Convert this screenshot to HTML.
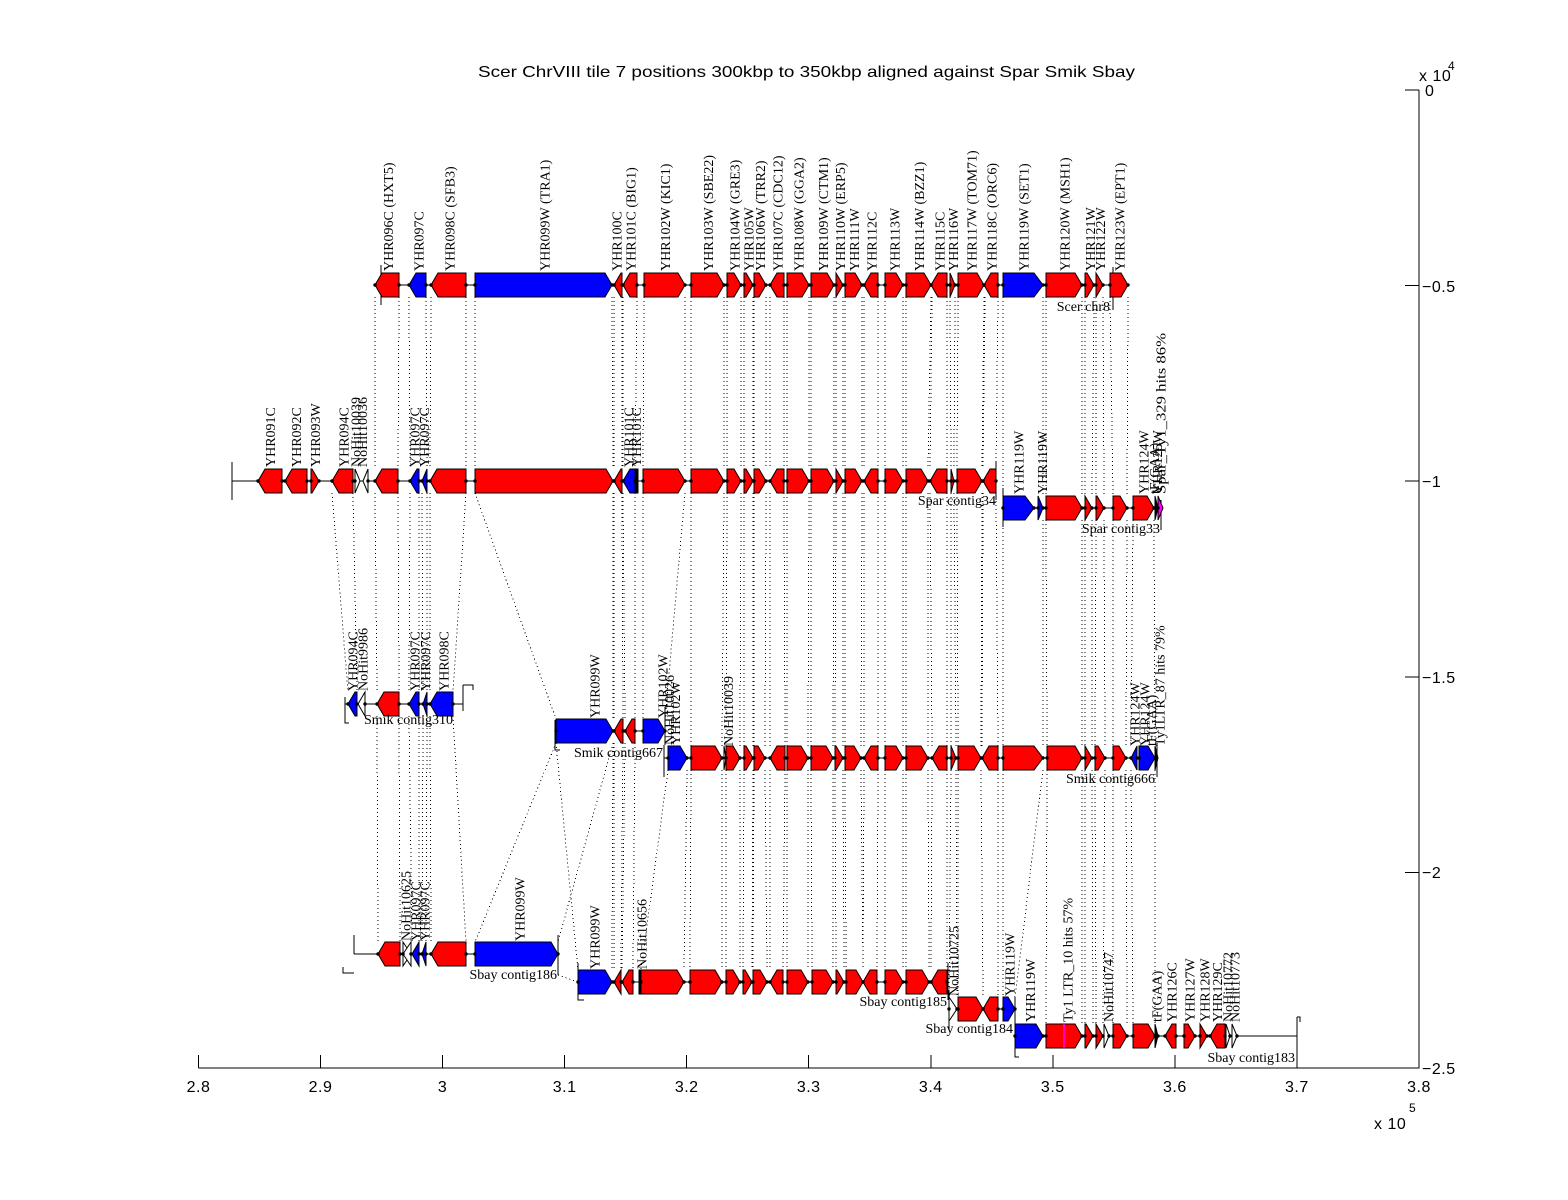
<!DOCTYPE html>
<html><head><meta charset="utf-8"><style>
html,body{margin:0;padding:0;background:#fff;}
svg{display:block;}
.s{font-family:"Liberation Sans",Arial,sans-serif;fill:#000;}
.t{font-family:"Liberation Serif","Times New Roman",serif;font-size:14px;fill:#000;}
.r{stroke:#000;stroke-width:1;fill:#ff0000;}
.b{stroke:#000;stroke-width:1;fill:#0000ff;}
.w{stroke:#000;stroke-width:1;fill:#fff;}
.k{stroke:#000;stroke-width:1;fill:#000;}
.m{stroke:#000;stroke-width:1;fill:#ff00ff;}
</style></head><body>
<svg width="1568" height="1200" viewBox="0 0 1568 1200" xmlns="http://www.w3.org/2000/svg">
<rect width="1568" height="1200" fill="#fff"/>

<!-- dotted connection lines -->
<g fill="none" stroke="#000" stroke-width="1" stroke-dasharray="1 3" shape-rendering="crispEdges">
<path d="M375 297V469 M399 297L398 469 M409 297L410 469 M426 297L427 469 M431 297L430 469 M466 297V469 M475 297V469 M612 297L613 469 M614 297V469 M622 297V469 M623 297V469 M637 297L635 469 M644 297L643 469 M685 297V469 M691 297V469 M724 297V469 M727 297V469 M741 297V469 M744 297V469 M753 297V469 M754 297V469 M766 297V469 M770 297V469 M784 297V469 M787 297V469 M809 297V469 M811 297V469 M834 297V469 M836 297V469 M843 297V469 M845 297V469 M862 297V469 M864 297V469 M878 297V469 M885 297V469 M903 297V469 M906 297V469 M931 297L928 469 M932 297L930 469 M947 297V469 M950 297L951 469 M955 297L954 469 M958 297L957 469 M984 297L982 469 M985 297L983 469 M998 297L996 469 M1003 297V496 M1043 297V496 M1046 297V496 M1082 297V496 M1085 297V496 M1094 297L1092 496 M1096 297V496 M1103 297L1104 496 M1110 297L1113 496 M1128 297L1127 496"/>
<path d="M332 493L348 692 M353 493L357 692 M375 493L377 692 M398 493L399 692 M410 493L409 692 M419 493V692 M422 493L423 692 M427 493V692 M430 493V692 M466 493L453 692 M475 493L556 719 M613 493V719 M614 493V719 M622 493L623 719 M623 493L625 719 M635 493V719 M643 493V719 M685 493L665 719 M691 493V746 M724 493L722 746 M727 493L726 746 M741 493L740 746 M744 493V746 M753 493V746 M754 493V746 M766 493L765 746 M770 493V746 M784 493L785 746 M787 493V746 M809 493L808 746 M811 493V746 M834 493L833 746 M836 493L835 746 M843 493V746 M845 493V746 M862 493L861 746 M864 493V746 M878 493V746 M885 493V746 M903 493V746 M906 493V746 M928 493V746 M930 493L932 746 M947 493V746 M951 493V746 M954 493L956 746 M957 493L958 746 M982 493L981 746 M983 493L982 746 M996 493L998 746 M1003 520V746 M1043 520V746 M1046 520L1047 746 M1082 520V746 M1085 520V746 M1092 520V746 M1096 520L1095 746 M1104 520L1105 746 M1113 520V746 M1127 520L1126 746 M1133 520L1131 746 M1154 520L1155 746"/>
<path d="M377 716L378 942 M399 716L400 942 M409 716L412 942 M419 716V942 M423 716L422 942 M427 716L426 942 M430 716L431 942 M453 716L466 942 M556 743L475 942 M613 743L558 942 M556 743L578 970 M613 743L612 970 M614 743V970 M623 743L621 970 M625 743L622 970 M635 743L633 970 M668 770L641 970 M687 770L684 970 M691 770L690 970 M722 770V970 M726 770V970 M740 770V970 M744 770L743 970 M753 770L752 970 M754 770L753 970 M765 770L767 970 M770 770V970 M785 770L783 970 M787 770V970 M808 770V970 M811 770L812 970 M833 770V970 M835 770L836 970 M843 770L844 970 M845 770L846 970 M861 770L863 970 M864 770L863 970 M878 770L877 970 M885 770V970 M903 770V970 M906 770V970 M928 770L929 970 M932 770L931 970 M947 770V970 M951 770L949 997 M956 770L957 997 M958 770V997 M981 770L983 997 M998 770V997 M1003 770V997 M1043 770L1015 997 M1047 770L1046 1024 M1082 770V1024 M1085 770V1024 M1092 770L1093 1024 M1095 770L1096 1024 M1105 770L1103 1024 M1113 770V1024 M1126 770L1127 1024 M1131 770L1133 1024 M1155 770V1024 M558 975L578 982"/>
</g>

<!-- contig backbone lines and end bars -->
<g fill="none" stroke="#000" stroke-width="1" shape-rendering="crispEdges">
<path d="M375 285H1128 M381 265V305 M1113 267V310"/>
<path d="M232 481H996 M232 462V500 M996 462V500"/>
<path d="M1003 508H1161 M1003 488V527 M1161 500V530"/>
<path d="M345 704H463 M345 697V723H349 M463 685V711 M463 685H473V690"/>
<path d="M555 731H665 M555 720V750H560 M665 707V745"/>
<path d="M664 758H1157 M664 745V777 M1157 743V777"/>
<path d="M354 954H558 M354 935V954 M343 967V973H354 M558 935V975"/>
<path d="M578 982H948 M578 963V1000H584 M948 963V1000"/>
<path d="M949 1009H1015 M949 990V1030 M1015 997V1027"/>
<path d="M1015 1036H1297 M1015 1017V1057H1019 M1297 1017V1068 M1297 1017H1300V1022"/>
</g>

<!-- Row 1 Scer -->
<g>
<polygon class="r" points="399,273 382,273 375,285 382,297 399,297"/>
<polygon class="b" points="426,273 416,273 409,285 416,297 426,297"/>
<polygon class="r" points="466,273 438,273 431,285 438,297 466,297"/>
<polygon class="b" points="475,273 605,273 612,285 605,297 475,297"/>
<polygon class="r" points="622,273 621,273 614,285 621,297 622,297"/>
<polygon class="r" points="637,273 630,273 623,285 630,297 637,297"/>
<polygon class="r" points="644,273 678,273 685,285 678,297 644,297"/>
<polygon class="r" points="691,273 717,273 724,285 717,297 691,297"/>
<polygon class="r" points="727,273 734,273 741,285 734,297 727,297"/>
<polygon class="r" points="744,273 746,273 753,285 746,297 744,297"/>
<polygon class="r" points="754,273 759,273 766,285 759,297 754,297"/>
<polygon class="r" points="784,273 777,273 770,285 777,297 784,297"/>
<polygon class="r" points="787,273 802,273 809,285 802,297 787,297"/>
<polygon class="r" points="811,273 827,273 834,285 827,297 811,297"/>
<polygon class="r" points="836,273 843,285 836,297"/>
<polygon class="r" points="845,273 855,273 862,285 855,297 845,297"/>
<polygon class="r" points="878,273 871,273 864,285 871,297 878,297"/>
<polygon class="r" points="885,273 896,273 903,285 896,297 885,297"/>
<polygon class="r" points="906,273 924,273 931,285 924,297 906,297"/>
<polygon class="r" points="947,273 938,273 931,285 938,297 947,297"/>
<polygon class="r" points="950,273 955,285 950,297"/>
<polygon class="r" points="958,273 977,273 984,285 977,297 958,297"/>
<polygon class="r" points="998,273 991,273 984,285 991,297 998,297"/>
<polygon class="b" points="1003,273 1034,273 1043,285 1034,297 1003,297"/>
<polygon class="r" points="1046,273 1075,273 1082,285 1075,297 1046,297"/>
<polygon class="r" points="1085,273 1087,273 1094,285 1087,297 1085,297"/>
<polygon class="r" points="1096,273 1103,285 1096,297"/>
<polygon class="r" points="1110,273 1121,273 1128,285 1121,297 1110,297"/>
</g>

<!-- Row 2 Spar contig34 -->
<g>
<polygon class="r" points="282,469 265,469 258,481 265,493 282,493"/>
<polygon class="r" points="307,469 292,469 285,481 292,493 307,493"/>
<polygon class="r" points="311,469 312,469 319,481 312,493 311,493"/>
<polygon class="r" points="353,469 339,469 332,481 339,493 353,493"/>
<polygon class="w" points="355,469 360,481 355,493"/>
<polygon class="w" points="368,469 363,481 368,493"/>
<polygon class="r" points="398,469 382,469 375,481 382,493 398,493"/>
<polygon class="b" points="419,469 417,469 410,481 417,493 419,493"/>
<polygon class="b" points="427,469 422,481 427,493"/>
<polygon class="r" points="466,469 437,469 430,481 437,493 466,493"/>
<polygon class="r" points="475,469 606,469 613,481 606,493 475,493"/>
<polygon class="r" points="622,469 621,469 614,481 621,493 622,493"/>
<polygon class="b" points="635,469 630,469 623,481 630,493 635,493"/>
<rect class="k" x="636" y="469" width="2" height="24"/>
<polygon class="r" points="643,469 678,469 685,481 678,493 643,493"/>
<polygon class="r" points="691,469 717,469 724,481 717,493 691,493"/>
<polygon class="r" points="727,469 734,469 741,481 734,493 727,493"/>
<polygon class="r" points="744,469 746,469 753,481 746,493 744,493"/>
<polygon class="r" points="754,469 759,469 766,481 759,493 754,493"/>
<polygon class="r" points="784,469 777,469 770,481 777,493 784,493"/>
<polygon class="r" points="787,469 802,469 809,481 802,493 787,493"/>
<polygon class="r" points="811,469 827,469 834,481 827,493 811,493"/>
<polygon class="r" points="836,469 843,481 836,493"/>
<polygon class="r" points="845,469 855,469 862,481 855,493 845,493"/>
<polygon class="r" points="878,469 871,469 864,481 871,493 878,493"/>
<polygon class="r" points="885,469 896,469 903,481 896,493 885,493"/>
<polygon class="r" points="906,469 921,469 928,481 921,493 906,493"/>
<polygon class="r" points="947,469 937,469 930,481 937,493 947,493"/>
<polygon class="r" points="951,469 954,481 951,493"/>
<polygon class="r" points="957,469 975,469 982,481 975,493 957,493"/>
<polygon class="r" points="996,469 990,469 983,481 990,493 996,493"/>
</g>

<!-- Row 2b Spar contig33 -->
<g>
<polygon class="b" points="1003,496 1025,496 1034,508 1025,520 1003,520"/>
<polygon class="b" points="1038,496 1043,508 1038,520"/>
<polygon class="r" points="1046,496 1075,496 1082,508 1075,520 1046,520"/>
<polygon class="r" points="1085,496 1092,508 1085,520"/>
<polygon class="r" points="1096,496 1097,496 1104,508 1097,520 1096,520"/>
<polygon class="r" points="1113,496 1120,496 1127,508 1120,520 1113,520"/>
<polygon class="r" points="1133,496 1147,496 1154,508 1147,520 1133,520"/>
<polygon class="k" points="1155,496 1158,508 1155,520"/>
<polygon class="m" points="1158,496 1163,508 1158,520"/>
</g>

<!-- Row 3a Smik contig310 -->
<g>
<polygon class="b" points="357,692 355,692 348,704 355,716 357,716"/>
<polygon class="w" points="365,692 358,704 365,716"/>
<polygon class="r" points="399,692 384,692 377,704 384,716 399,716"/>
<polygon class="b" points="419,692 416,692 409,704 416,716 419,716"/>
<polygon class="b" points="427,692 423,704 427,716"/>
<polygon class="b" points="453,692 437,692 430,704 437,716 453,716"/>
</g>

<!-- Row 3b Smik contig667 -->
<g>
<polygon class="b" points="556,719 606,719 613,731 606,743 556,743"/>
<polygon class="r" points="623,719 621,719 614,731 621,743 623,743"/>
<polygon class="r" points="635,719 632,719 625,731 632,743 635,743"/>
<polygon class="b" points="643,719 658,719 665,731 658,743 643,743"/>
</g>

<!-- Row 3c Smik contig666 -->
<g>
<polygon class="b" points="668,746 680,746 687,758 680,770 668,770"/>
<polygon class="r" points="691,746 715,746 722,758 715,770 691,770"/>
<polygon class="w" points="724,746 726,758 724,770"/>
<polygon class="r" points="726,746 733,746 740,758 733,770 726,770"/>
<polygon class="r" points="744,746 746,746 753,758 746,770 744,770"/>
<polygon class="r" points="754,746 758,746 765,758 758,770 754,770"/>
<polygon class="r" points="785,746 777,746 770,758 777,770 785,770"/>
<polygon class="r" points="787,746 801,746 808,758 801,770 787,770"/>
<polygon class="r" points="811,746 826,746 833,758 826,770 811,770"/>
<polygon class="r" points="835,746 836,746 843,758 836,770 835,770"/>
<polygon class="r" points="845,746 854,746 861,758 854,770 845,770"/>
<polygon class="r" points="878,746 871,746 864,758 871,770 878,770"/>
<polygon class="r" points="885,746 896,746 903,758 896,770 885,770"/>
<polygon class="r" points="906,746 921,746 928,758 921,770 906,770"/>
<polygon class="r" points="947,746 939,746 932,758 939,770 947,770"/>
<polygon class="r" points="951,746 956,758 951,770"/>
<polygon class="r" points="958,746 974,746 981,758 974,770 958,770"/>
<polygon class="r" points="998,746 989,746 982,758 989,770 998,770"/>
<polygon class="r" points="1003,746 1034,746 1043,758 1034,770 1003,770"/>
<polygon class="r" points="1047,746 1075,746 1082,758 1075,770 1047,770"/>
<polygon class="r" points="1085,746 1092,758 1085,770"/>
<polygon class="r" points="1095,746 1098,746 1105,758 1098,770 1095,770"/>
<polygon class="r" points="1113,746 1119,746 1126,758 1119,770 1113,770"/>
<polygon class="b" points="1137,746 1131,758 1137,770"/>
<polygon class="b" points="1139,746 1148,746 1155,758 1148,770 1139,770"/>
<polygon class="k" points="1155,746 1158,758 1155,770"/>
</g>

<!-- Row 4a Sbay contig186 -->
<g>
<polygon class="r" points="400,942 385,942 378,954 385,966 400,966"/>
<polygon class="w" points="403,942 411,954 403,966"/>
<polygon class="w" points="411,942 403,954 411,966"/>
<polygon class="b" points="419,942 412,954 419,966"/>
<polygon class="b" points="426,942 422,954 426,966"/>
<polygon class="r" points="466,942 438,942 431,954 438,966 466,966"/>
<polygon class="b" points="475,942 551,942 558,954 551,966 475,966"/>
</g>

<!-- Row 4b Sbay contig185 -->
<g>
<polygon class="b" points="578,970 605,970 612,982 605,994 578,994"/>
<polygon class="r" points="621,970 614,982 621,994"/>
<polygon class="r" points="633,970 629,970 622,982 629,994 633,994"/>
<rect class="k" x="639" y="970" width="1.5" height="24"/>
<polygon class="r" points="641,970 677,970 684,982 677,994 641,994"/>
<polygon class="r" points="690,970 715,970 722,982 715,994 690,994"/>
<polygon class="r" points="726,970 733,970 740,982 733,994 726,994"/>
<polygon class="r" points="743,970 745,970 752,982 745,994 743,994"/>
<polygon class="r" points="753,970 760,970 767,982 760,994 753,994"/>
<polygon class="r" points="783,970 777,970 770,982 777,994 783,994"/>
<polygon class="r" points="787,970 801,970 808,982 801,994 787,994"/>
<polygon class="r" points="812,970 826,970 833,982 826,994 812,994"/>
<polygon class="r" points="836,970 837,970 844,982 837,994 836,994"/>
<polygon class="r" points="846,970 856,970 863,982 856,994 846,994"/>
<polygon class="r" points="877,970 870,970 863,982 870,994 877,994"/>
<polygon class="r" points="885,970 896,970 903,982 896,994 885,994"/>
<polygon class="r" points="906,970 922,970 929,982 922,994 906,994"/>
<polygon class="r" points="947,970 938,970 931,982 938,994 947,994"/>
</g>

<!-- Row 4c Sbay contig184 -->
<g>
<polygon class="w" points="949,997 957,1009 949,1021"/>
<polygon class="r" points="958,997 976,997 983,1009 976,1021 958,1021"/>
<polygon class="r" points="998,997 990,997 983,1009 990,1021 998,1021"/>
<polygon class="b" points="1003,997 1008,997 1015,1009 1008,1021 1003,1021"/>
</g>

<!-- Row 4d Sbay contig183 -->
<g>
<polygon class="b" points="1015,1024 1036,1024 1043,1036 1036,1048 1015,1048"/>
<polygon class="r" points="1046,1024 1075,1024 1082,1036 1075,1048 1046,1048"/>
<line x1="1064" y1="1024" x2="1064" y2="1048" stroke="#ff00ff" stroke-width="1.5"/>
<polygon class="r" points="1085,1024 1086,1024 1093,1036 1086,1048 1085,1048"/>
<polygon class="r" points="1096,1024 1103,1036 1096,1048"/>
<polygon class="w" points="1104,1024 1109,1036 1104,1048"/>
<polygon class="r" points="1113,1024 1120,1024 1127,1036 1120,1048 1113,1048"/>
<polygon class="r" points="1133,1024 1148,1024 1155,1036 1148,1048 1133,1048"/>
<polygon class="k" points="1155,1024 1158,1036 1155,1048"/>
<polygon class="r" points="1176,1024 1172,1024 1165,1036 1172,1048 1176,1048"/>
<polygon class="r" points="1184,1024 1188,1024 1195,1036 1188,1048 1184,1048"/>
<polygon class="r" points="1200,1024 1207,1036 1200,1048"/>
<polygon class="r" points="1225,1024 1217,1024 1210,1036 1217,1048 1225,1048"/>
<polygon class="w" points="1226,1024 1230,1036 1226,1048"/>
<polygon class="w" points="1232,1024 1237,1036 1232,1048"/>
</g>

<!-- boundary dots -->
<g fill="none" stroke="#000" stroke-width="3.4" stroke-linecap="round">
<path d="M375 285h0M399 285h0M409 285h0M426 285h0M431 285h0M466 285h0M475 285h0M612 285h0M614 285h0M622 285h0M623 285h0M637 285h0M644 285h0M685 285h0M691 285h0M724 285h0M727 285h0M741 285h0M744 285h0M753 285h0M754 285h0M766 285h0M770 285h0M784 285h0M787 285h0M809 285h0M811 285h0M834 285h0M836 285h0M843 285h0M845 285h0M862 285h0M864 285h0M878 285h0M885 285h0M903 285h0M906 285h0M931 285h0M947 285h0M950 285h0M955 285h0M958 285h0M984 285h0M998 285h0M1003 285h0M1043 285h0M1046 285h0M1082 285h0M1085 285h0M1094 285h0M1096 285h0M1103 285h0M1110 285h0M1128 285h0"/>
<path d="M258 481h0M282 481h0M285 481h0M307 481h0M311 481h0M319 481h0M332 481h0M353 481h0M355 481h0M368 481h0M375 481h0M398 481h0M410 481h0M419 481h0M422 481h0M427 481h0M430 481h0M466 481h0M475 481h0M613 481h0M614 481h0M622 481h0M623 481h0M635 481h0M643 481h0M685 481h0M691 481h0M724 481h0M727 481h0M741 481h0M744 481h0M753 481h0M754 481h0M766 481h0M770 481h0M784 481h0M787 481h0M809 481h0M811 481h0M834 481h0M836 481h0M843 481h0M845 481h0M862 481h0M864 481h0M878 481h0M885 481h0M903 481h0M906 481h0M928 481h0M930 481h0M947 481h0M951 481h0M954 481h0M957 481h0M982 481h0M983 481h0M996 481h0"/>
<path d="M1003 508h0M1034 508h0M1038 508h0M1043 508h0M1046 508h0M1082 508h0M1085 508h0M1092 508h0M1096 508h0M1104 508h0M1113 508h0M1127 508h0M1133 508h0M1154 508h0M1158 508h0"/>
<path d="M348 704h0M357 704h0M365 704h0M377 704h0M399 704h0M409 704h0M419 704h0M423 704h0M427 704h0M430 704h0M453 704h0"/>
<path d="M556 731h0M613 731h0M614 731h0M623 731h0M625 731h0M635 731h0M643 731h0M665 731h0"/>
<path d="M668 758h0M687 758h0M691 758h0M722 758h0M726 758h0M740 758h0M744 758h0M753 758h0M754 758h0M765 758h0M770 758h0M785 758h0M787 758h0M808 758h0M811 758h0M833 758h0M835 758h0M843 758h0M845 758h0M861 758h0M864 758h0M878 758h0M885 758h0M903 758h0M906 758h0M928 758h0M932 758h0M947 758h0M951 758h0M956 758h0M958 758h0M981 758h0M982 758h0M998 758h0M1003 758h0M1043 758h0M1047 758h0M1082 758h0M1085 758h0M1092 758h0M1095 758h0M1105 758h0M1113 758h0M1126 758h0M1131 758h0M1137 758h0M1139 758h0M1155 758h0"/>
<path d="M378 954h0M400 954h0M403 954h0M411 954h0M419 954h0M422 954h0M426 954h0M431 954h0M466 954h0M475 954h0M558 954h0"/>
<path d="M578 982h0M612 982h0M614 982h0M621 982h0M622 982h0M633 982h0M641 982h0M684 982h0M690 982h0M722 982h0M726 982h0M740 982h0M743 982h0M752 982h0M753 982h0M767 982h0M770 982h0M783 982h0M787 982h0M808 982h0M812 982h0M833 982h0M836 982h0M844 982h0M846 982h0M863 982h0M877 982h0M885 982h0M903 982h0M906 982h0M929 982h0M931 982h0M947 982h0"/>
<path d="M949 1009h0M957 1009h0M958 1009h0M983 1009h0M998 1009h0M1003 1009h0M1015 1009h0"/>
<path d="M1015 1036h0M1043 1036h0M1046 1036h0M1082 1036h0M1085 1036h0M1093 1036h0M1096 1036h0M1103 1036h0M1109 1036h0M1113 1036h0M1127 1036h0M1133 1036h0M1155 1036h0M1158 1036h0M1165 1036h0M1176 1036h0M1184 1036h0M1195 1036h0M1200 1036h0M1207 1036h0M1210 1036h0M1225 1036h0M1230 1036h0M1237 1036h0"/>
</g>

<!-- gene labels -->
<g class="t">
<text transform="translate(393,271) rotate(-90)">YHR096C (HXT5)</text>
<text transform="translate(423.5,271) rotate(-90)">YHR097C</text>
<text transform="translate(454.5,271) rotate(-90)">YHR098C (SFB3)</text>
<text transform="translate(549.5,271) rotate(-90)">YHR099W (TRA1)</text>
<text transform="translate(621.5,271) rotate(-90)">YHR100C</text>
<text transform="translate(635.5,271) rotate(-90)">YHR101C (BIG1)</text>
<text transform="translate(670,271) rotate(-90)">YHR102W (KIC1)</text>
<text transform="translate(713,271) rotate(-90)">YHR103W (SBE22)</text>
<text transform="translate(739.5,271) rotate(-90)">YHR104W (GRE3)</text>
<text transform="translate(753.5,271) rotate(-90)">YHR105W</text>
<text transform="translate(765,271) rotate(-90)">YHR106W (TRR2)</text>
<text transform="translate(782.5,271) rotate(-90)">YHR107C (CDC12)</text>
<text transform="translate(803.5,271) rotate(-90)">YHR108W (GGA2)</text>
<text transform="translate(828,271) rotate(-90)">YHR109W (CTM1)</text>
<text transform="translate(845,271) rotate(-90)">YHR110W (ERP5)</text>
<text transform="translate(859,271) rotate(-90)">YHR111W</text>
<text transform="translate(876.5,271) rotate(-90)">YHR112C</text>
<text transform="translate(899.5,271) rotate(-90)">YHR113W</text>
<text transform="translate(924,271) rotate(-90)">YHR114W (BZZ1)</text>
<text transform="translate(944.5,271) rotate(-90)">YHR115C</text>
<text transform="translate(958,271) rotate(-90)">YHR116W</text>
<text transform="translate(976.5,271) rotate(-90)">YHR117W (TOM71)</text>
<text transform="translate(996.5,271) rotate(-90)">YHR118C (ORC6)</text>
<text transform="translate(1028.5,271) rotate(-90)">YHR119W (SET1)</text>
<text transform="translate(1069.5,271) rotate(-90)">YHR120W (MSH1)</text>
<text transform="translate(1095,271) rotate(-90)">YHR121W</text>
<text transform="translate(1105,271) rotate(-90)">YHR122W</text>
<text transform="translate(1124.5,271) rotate(-90)">YHR123W (EPT1)</text>

<text transform="translate(275,467) rotate(-90)">YHR091C</text>
<text transform="translate(301,467) rotate(-90)">YHR092C</text>
<text transform="translate(320,467) rotate(-90)">YHR093W</text>
<text transform="translate(348.5,467) rotate(-90)">YHR094C</text>
<text transform="translate(360.5,467) rotate(-90)">NoHit10039</text>
<text transform="translate(367,467) rotate(-90)">NoHit10036</text>
<text transform="translate(419.5,467) rotate(-90)">YHR097C</text>
<text transform="translate(429,467) rotate(-90)">YHR097C</text>
<text transform="translate(633.5,467) rotate(-90)">YHR101C</text>
<text transform="translate(641,467) rotate(-90)">YHR101C</text>

<text transform="translate(1023.5,494) rotate(-90)">YHR119W</text>
<text transform="translate(1047,494) rotate(-90)">YHR119W</text>
<text transform="translate(1148.5,494) rotate(-90)">YHR124W</text>
<text transform="translate(1159,494) rotate(-90)">tF(GAA)</text>
<text transform="translate(1162,494) rotate(-90)">YHR125W</text>
<text transform="translate(1165.5,494) rotate(-90)" textLength="161" lengthAdjust="spacingAndGlyphs">Spar_Ty1_329 hits 86%</text>

<text transform="translate(357.5,691) rotate(-90)">YHR094C</text>
<text transform="translate(367.5,691) rotate(-90)">NoHit9986</text>
<text transform="translate(419.5,691) rotate(-90)">YHR097C</text>
<text transform="translate(430,691) rotate(-90)">YHR097C</text>
<text transform="translate(448.5,691) rotate(-90)">YHR098C</text>

<text transform="translate(599.5,718) rotate(-90)">YHR099W</text>
<text transform="translate(667.5,718) rotate(-90)">YHR102W</text>
<text transform="translate(674,745) rotate(-90)">NoHit10026</text>
<text transform="translate(680,745) rotate(-90)">YHR102W</text>

<text transform="translate(733,746) rotate(-90)">NoHit10039</text>
<text transform="translate(1139.6,746) rotate(-90)">YHR124W</text>
<text transform="translate(1149.6,746) rotate(-90)">YHR124W</text>
<text transform="translate(1156,746) rotate(-90)">tF(GAA)</text>
<text transform="translate(1164.6,746) rotate(-90)">Ty1LTR_87 hits 79%</text>

<text transform="translate(410.6,941) rotate(-90)">NoHit10625</text>
<text transform="translate(420.6,941) rotate(-90)">YHR097C</text>
<text transform="translate(429.6,941) rotate(-90)">YHR097C</text>
<text transform="translate(524.6,941) rotate(-90)">YHR099W</text>

<text transform="translate(599.6,969) rotate(-90)">YHR099W</text>
<text transform="translate(646.6,969) rotate(-90)">NoHit10656</text>

<text transform="translate(958.6,996) rotate(-90)">NoHit10725</text>
<text transform="translate(1014.6,996) rotate(-90)">YHR119W</text>

<text transform="translate(1035,1022) rotate(-90)">YHR119W</text>
<text transform="translate(1072.5,1022) rotate(-90)">Ty1 LTR_10 hits 57%</text>
<text transform="translate(1113,1022) rotate(-90)">NoHit10747</text>
<text transform="translate(1161.5,1022) rotate(-90)">tF(GAA)</text>
<text transform="translate(1176.5,1022) rotate(-90)">YHR126C</text>
<text transform="translate(1194.5,1022) rotate(-90)">YHR127W</text>
<text transform="translate(1209.5,1022) rotate(-90)">YHR128W</text>
<text transform="translate(1222,1022) rotate(-90)">YHR129C</text>
<text transform="translate(1232.5,1022) rotate(-90)">NoHit10772</text>
<text transform="translate(1239.5,1022) rotate(-90)">NoHit10773</text>
</g>

<!-- contig names -->
<g class="t" text-anchor="end">
<text x="1110" y="311">Scer chr8</text>
<text x="996" y="505">Spar contig34</text>
<text x="1160" y="533">Spar contig33</text>
<text x="453" y="724">Smik contig310</text>
<text x="663" y="757">Smik contig667</text>
<text x="1155" y="783">Smik contig666</text>
<text x="557" y="979">Sbay contig186</text>
<text x="947" y="1006">Sbay contig185</text>
<text x="1013" y="1033">Sbay contig184</text>
<text x="1295" y="1062">Sbay contig183</text>
</g>

<!-- axes -->
<g fill="none" stroke="#000" stroke-width="1" shape-rendering="crispEdges">
<path d="M198.5 1068H1419V90"/>
<path d="M198.5 1068V1055 M320.5 1068V1055 M442.6 1068V1055 M564.6 1068V1055 M686.7 1068V1055 M808.7 1068V1055 M930.8 1068V1055 M1052.8 1068V1055 M1174.9 1068V1055 M1296.9 1068V1055"/>
<path d="M1405 90H1419 M1405 285.6H1419 M1405 481.2H1419 M1405 676.8H1419 M1405 872.4H1419"/>
</g>
<g class="s" font-size="16" text-anchor="middle" letter-spacing="0.5">
<text x="198.5" y="1092">2.8</text>
<text x="320.5" y="1092">2.9</text>
<text x="442.6" y="1092">3</text>
<text x="564.6" y="1092">3.1</text>
<text x="686.7" y="1092">3.2</text>
<text x="808.7" y="1092">3.3</text>
<text x="930.8" y="1092">3.4</text>
<text x="1052.8" y="1092">3.5</text>
<text x="1174.9" y="1092">3.6</text>
<text x="1296.9" y="1092">3.7</text>
<text x="1419" y="1092">3.8</text>
</g>
<g class="s" font-size="16" letter-spacing="0.5">
<text x="1425" y="96">0</text>
<text x="1422" y="292">−0.5</text>
<text x="1422" y="487">−1</text>
<text x="1422" y="683">−1.5</text>
<text x="1422" y="878">−2</text>
<text x="1422" y="1074">−2.5</text>
<text x="1419" y="81">x 10</text>
<text x="1448" y="70" font-size="12">4</text>
<text x="1374" y="1129">x 10</text>
<text x="1409" y="1112" font-size="12">5</text>
</g>

<text class="s" x="806.5" y="77" font-size="16" text-anchor="middle" textLength="657" lengthAdjust="spacingAndGlyphs">Scer ChrVIII tile 7 positions 300kbp to 350kbp aligned against Spar Smik Sbay</text>
</svg>
</body></html>
